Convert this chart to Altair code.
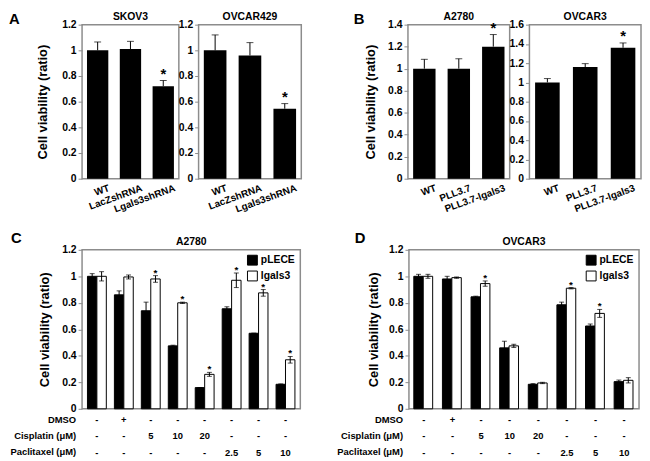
import altair as alt
import pandas as pd

FONT = "Liberation Sans"
GRAY = "#8c8c8c"

# ---------------- data ----------------
a_cats = ["WT", "LacZshRNA", "Lgals3shRNA"]
skov3_vals = [1.00, 1.01, 0.72]
skov3_errs = [0.065, 0.06, 0.045]
skov3_star = ["", "", "*"]
ovcar429_vals = [1.00, 0.96, 0.545]
ovcar429_errs = [0.12, 0.10, 0.04]
ovcar429_star = ["", "", "*"]

b_cats = ["WT", "PLL3.7", "PLL3.7-lgals3"]
a2780_vals = [1.00, 1.00, 1.20]
a2780_errs = [0.085, 0.09, 0.11]
a2780_star = ["", "", "*"]
ovcar3_vals = [1.00, 1.16, 1.36]
ovcar3_errs = [0.04, 0.035, 0.05]
ovcar3_star = ["", "", "*"]

conditions = ["-|-|-", "+|-|-", "-|5|-", "-|10|-", "-|20|-", "-|-|2.5", "-|-|5", "-|-|10"]
row_headers = ["DMSO", "Cisplatin (μM)", "Paclitaxel (μM)"]
series = ["pLECE", "lgals3"]

c_plece = [1.00, 0.86, 0.74, 0.475, 0.16, 0.755, 0.57, 0.185]
c_plece_err = [0.02, 0.03, 0.065, 0.005, 0.0, 0.015, 0.0, 0.003]
c_lgals3 = [1.00, 0.995, 0.98, 0.80, 0.26, 0.97, 0.875, 0.37]
c_lgals3_err = [0.035, 0.015, 0.025, 0.005, 0.015, 0.055, 0.025, 0.025]
c_star = ["", "", "*", "*", "*", "*", "*", "*"]

d_plece = [1.00, 0.98, 0.845, 0.46, 0.185, 0.785, 0.625, 0.205]
d_plece_err = [0.015, 0.02, 0.005, 0.05, 0.005, 0.02, 0.015, 0.012]
d_lgals3 = [1.00, 0.99, 0.945, 0.475, 0.195, 0.91, 0.72, 0.215]
d_lgals3_err = [0.015, 0.005, 0.02, 0.012, 0.005, 0.005, 0.03, 0.02]
d_star = ["", "", "*", "", "", "*", "*", ""]

TOP_H = 156
BOT_H = 161


def yticks(ymax):
    n = int(round(ymax / 0.2))
    return [round(0.2 * i, 1) for i in range(n + 1)]


def text_layer(text, x, y, size, align="left", baseline="top"):
    return alt.Chart(pd.DataFrame({"t": [text]})).mark_text(
        align=align, baseline=baseline, fontSize=size, fontWeight="bold", font=FONT,
        color="black"
    ).encode(text="t:N", x=alt.value(x), y=alt.value(y))


def y_axis(ymax, h, ytitle=None, title_x=-40):
    kw = dict(values=yticks(ymax), format=".1~f", grid=False, domain=False,
              tickColor=GRAY, tickSize=4, tickWidth=1, labelPadding=2, labelFontSize=10.5,
              labelOverlap=False, labelBound=False, labelFlush=False)
    if ytitle:
        return alt.Axis(title=ytitle, titleX=title_x, titleY=h / 2, titleAngle=270,
                        titleAlign="center", titleBaseline="middle", titleFontSize=13, **kw)
    return alt.Axis(title=None, **kw)


def top_panel(title, cats, vals, errs, stars, ymax, width, ytitle=None, title_x=-40,
              letter=None, letter_dx=0):
    df = pd.DataFrame({"cat": cats, "val": vals,
                       "hi": [v + e for v, e in zip(vals, errs)], "star": stars})
    xaxis = alt.Axis(title=None, labelAngle=-20, ticks=False, domain=False,
                     labelFontSize=10, labelPadding=4, labelOffset=10, labelOverlap=False)
    yaxis = y_axis(ymax, TOP_H, ytitle, title_x)
    xscale = alt.Scale(paddingInner=0.35, paddingOuter=0.15)
    yscale = alt.Scale(domain=[0, ymax], nice=False)

    def X():
        return alt.X("cat:N", sort=cats, scale=xscale, axis=xaxis)

    def Y(f):
        return alt.Y(f"{f}:Q", scale=yscale, axis=yaxis)

    base = alt.Chart(df)
    bars = base.mark_bar(color="black").encode(x=X(), y=Y("val"))
    rule = base.mark_rule(color="black", strokeWidth=1).encode(x=X(), y=Y("val"), y2="hi:Q")
    cap = base.mark_tick(color="black", thickness=1, size=7, orient="horizontal").encode(
        x=X(), y=Y("hi"))
    star = base.mark_text(fontSize=15, fontWeight="bold", baseline="bottom", dy=1,
                          color="black", font=FONT).encode(x=X(), y=Y("hi"), text="star:N")
    layers = [bars, rule, cap, star,
              text_layer(title, width / 2, -3, 10.5, align="center", baseline="bottom")]
    if letter:
        layers.append(text_layer(letter, letter_dx, -13, 15))
    return alt.layer(*layers).properties(width=width, height=TOP_H)


def bottom_panel(title, pl, pl_err, lg, lg_err, stars, width, letter, letter_dx, title_x,
                 pad_outer):
    rows = []
    for i, c in enumerate(conditions):
        rows.append({"cond": c, "series": "pLECE", "val": pl[i], "lo": pl[i] - pl_err[i],
                     "hi": pl[i] + pl_err[i], "star": ""})
        rows.append({"cond": c, "series": "lgals3", "val": lg[i], "lo": lg[i] - lg_err[i],
                     "hi": lg[i] + lg_err[i], "star": stars[i]})
    df = pd.DataFrame(rows)
    xaxis = alt.Axis(title=None, labelAngle=0, labelExpr="split(datum.label, '|')",
                     labelLineHeight=16.5, labelBaseline="top", labelPadding=6,
                     ticks=False, domain=False, labelFontSize=9.5, labelOverlap=False)
    xscale = alt.Scale(paddingInner=0.3, paddingOuter=pad_outer)
    yaxis = y_axis(1.2, BOT_H, "Cell viability  (ratio)", title_x)
    yscale = alt.Scale(domain=[0, 1.2], nice=False)

    def X():
        return alt.X("cond:N", sort=conditions, scale=xscale, axis=xaxis)

    def Y(f):
        return alt.Y(f"{f}:Q", scale=yscale, axis=yaxis)

    xo = alt.XOffset("series:N", sort=series, scale=alt.Scale(domain=series))
    color = alt.Color("series:N", sort=series,
                      scale=alt.Scale(domain=series, range=["black", "white"]),
                      legend=alt.Legend(title=None, orient="top-right", offset=5,
                                        symbolType="square", symbolSize=100,
                                        symbolStrokeColor="black", symbolStrokeWidth=1,
                                        labelFontSize=10.5, labelFontWeight="bold",
                                        labelFont=FONT, labelOffset=3, rowPadding=1,
                                        padding=0))
    base = alt.Chart(df)
    bars = base.mark_bar(stroke="black", strokeWidth=1).encode(
        x=X(), xOffset=xo, y=Y("val"), color=color)
    rule = base.mark_rule(color="black", strokeWidth=1).encode(
        x=X(), xOffset=xo, y=Y("lo"), y2="hi:Q")
    cap_hi = base.mark_tick(color="black", thickness=1, size=5, orient="horizontal").encode(
        x=X(), xOffset=xo, y=Y("hi"))
    cap_lo = base.mark_tick(color="black", thickness=1, size=5, orient="horizontal").encode(
        x=X(), xOffset=xo, y=Y("lo"))
    star = base.mark_text(fontSize=10, fontWeight="bold", baseline="bottom", dy=2,
                          color="black", font=FONT).encode(
        x=X(), xOffset=xo, y=Y("hi"), text="star:N")
    layers = [bars, rule, cap_hi, cap_lo, star]
    for i, h in enumerate(row_headers):
        layers.append(text_layer(h, -6, BOT_H + 6 + i * 16.5, 9.5, align="right"))
    layers.append(text_layer(title, width / 2, -3, 10.5, align="center", baseline="bottom"))
    layers.append(text_layer(letter, letter_dx, -19, 15))
    return alt.layer(*layers).properties(width=width, height=BOT_H)


skov3 = top_panel("SKOV3", a_cats, skov3_vals, skov3_errs, skov3_star, 1.2, 98,
                  ytitle="Cell viability (ratio)", title_x=-40, letter="A", letter_dx=-74)
ovcar429 = top_panel("OVCAR429", a_cats, ovcar429_vals, ovcar429_errs, ovcar429_star, 1.2, 104)
spacer = alt.Chart(pd.DataFrame({"t": [""]})).mark_text().encode(
    text="t:N", x=alt.value(0), y=alt.value(0)).properties(
    width=68, height=TOP_H, view=alt.ViewBackground(stroke="transparent"))
a2780 = top_panel("A2780", b_cats, a2780_vals, a2780_errs, a2780_star, 1.4, 103,
                  ytitle="Cell viability (ratio)", title_x=-38, letter="B", letter_dx=-55)
ovcar3 = top_panel("OVCAR3", b_cats, ovcar3_vals, ovcar3_errs, ovcar3_star, 1.6, 113)

top_row = alt.hconcat(skov3, ovcar429, spacer, a2780, ovcar3, spacing=20, bounds="flush")

panel_c = bottom_panel("A2780", c_plece, c_plece_err, c_lgals3, c_lgals3_err, c_star, 221,
                       "C", -72, -38, 0.2)
panel_d = bottom_panel("OVCAR3", d_plece, d_plece_err, d_lgals3, d_lgals3_err, d_star, 233,
                       "D", -55, -36, 0.17)
bottom_row = alt.hconcat(panel_c, panel_d, spacing=110, bounds="flush").resolve_scale(
    color="independent").resolve_legend(color="independent")

chart = alt.vconcat(top_row, bottom_row, spacing=15).properties(
    padding=0
).configure_view(
    stroke=GRAY, strokeWidth=1.5
).configure_axis(
    labelFont=FONT, titleFont=FONT, labelFontWeight="bold", titleFontWeight="bold",
    labelColor="black", titleColor="black"
).configure_text(font=FONT)

chart.save("out.html", embed_options={"renderer": "svg", "actions": False})
